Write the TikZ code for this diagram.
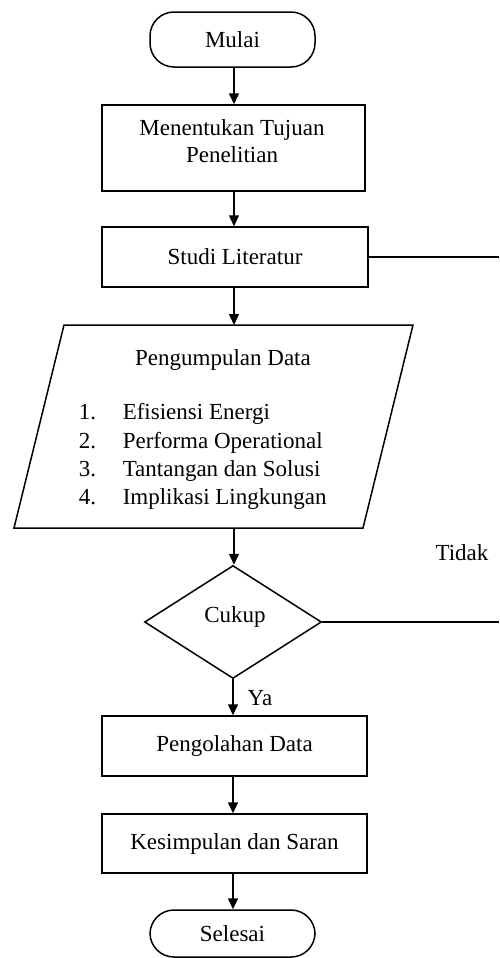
\documentclass[tikz,border=0pt]{standalone}
\usepackage{fontspec}
\setmainfont{Liberation Serif}
\usetikzlibrary{shapes.geometric,arrows.meta}
\begin{document}
\begin{tikzpicture}[x=0.5pt,y=-0.5pt,
  line width=0.75pt,
  txt/.style={font=\fontsize{11.5}{13.5}\selectfont, inner sep=0pt},
  boxnode/.style={draw, rectangle, inner sep=0pt, font=\fontsize{11.5}{13.5}\selectfont},
  termnode/.style={draw, rectangle, rounded corners=12pt, inner sep=0pt, minimum width=82.5pt, font=\fontsize{11.5}{13.5}\selectfont},
  decnode/.style={draw, diamond, inner sep=0pt, minimum width=88.5pt, minimum height=56.5pt, font=\fontsize{11.5}{13.5}\selectfont},
  arr/.style={-{Triangle[length=5.5pt,width=5pt]}}
]
\useasboundingbox (0,0) rectangle (499,958);

% terminators
\node[termnode, minimum height=27.5pt] (mulai) at (232.5,39.5) {Mulai};
\node[termnode, minimum height=23.5pt] (selesai) at (232.5,933.5) {Selesai};

% process boxes
\node[boxnode, minimum width=131.5pt, minimum height=43pt] (tujuan) at (233.5,148) {};
\node[txt, align=center] (tujuantxt) at (232,141.5) {Menentukan Tujuan\\Penelitian};
\node[boxnode, minimum width=133pt, minimum height=30pt] (studi) at (235,257) {Studi Literatur};
\node[boxnode, minimum width=132.5pt, minimum height=30pt] (olah) at (234.5,746) {Pengolahan Data};
\node[boxnode, minimum width=132.5pt, minimum height=29.5pt] (simpul) at (234.5,843.5) {Kesimpulan dan Saran};

% data (parallelogram)
\coordinate (ptl) at (64,325);
\coordinate (ptr) at (413,325);
\coordinate (pbr) at (363,528);
\coordinate (pbl) at (14,528);
\coordinate (ptop) at (234,325);
\coordinate (pbot) at (234,528);
\draw (ptl) -- (ptr) -- (pbr) -- (pbl) -- cycle;
\node[txt] (pdtitle) at (223,360) {Pengumpulan Data};
\node[txt, anchor=base west] (n1) at (78,419) {1.};
\node[txt, anchor=base west] (n2) at (78,448) {2.};
\node[txt, anchor=base west] (n3) at (78,476) {3.};
\node[txt, anchor=base west] (n4) at (78,504) {4.};
\node[txt, anchor=base west] (i1) at (122,419) {Efisiensi Energi};
\node[txt, anchor=base west] (i2) at (122,448) {Performa Operational};
\node[txt, anchor=base west] (i3) at (122,476) {Tantangan dan Solusi};
\node[txt, anchor=base west] (i4) at (122,504) {Implikasi Lingkungan};

% decision
\node[decnode] (cukup) at (233,622) {};
\node[txt] (cukuptxt) at (235,617) {Cukup};

% labels
\node[txt] (tidak) at (462,553) {Tidak};
\node[txt] (ya) at (260,698) {Ya};

% right-side lines
\coordinate (r1) at (499,257);
\coordinate (r2) at (499,622);
\draw (studi.east) -- (r1);
\draw (cukup.east) -- (r2);

% arrows
\draw[arr] (mulai.south -| 234,0) -- (tujuan.north -| 234,0);
\draw[arr] (tujuan.south -| 234,0) -- (studi.north -| 234,0);
\draw[arr] (studi.south -| 234,0) -- (ptop);
\draw[arr] (pbot) -- (cukup.north -| 234,0);
\draw[arr] (cukup.south -| 233,0) -- (olah.north -| 233,0);
\draw[arr] (olah.south -| 233,0) -- (simpul.north -| 233,0);
\draw[arr] (simpul.south -| 233,0) -- (selesai.north -| 233,0);
\end{tikzpicture}
\end{document}
